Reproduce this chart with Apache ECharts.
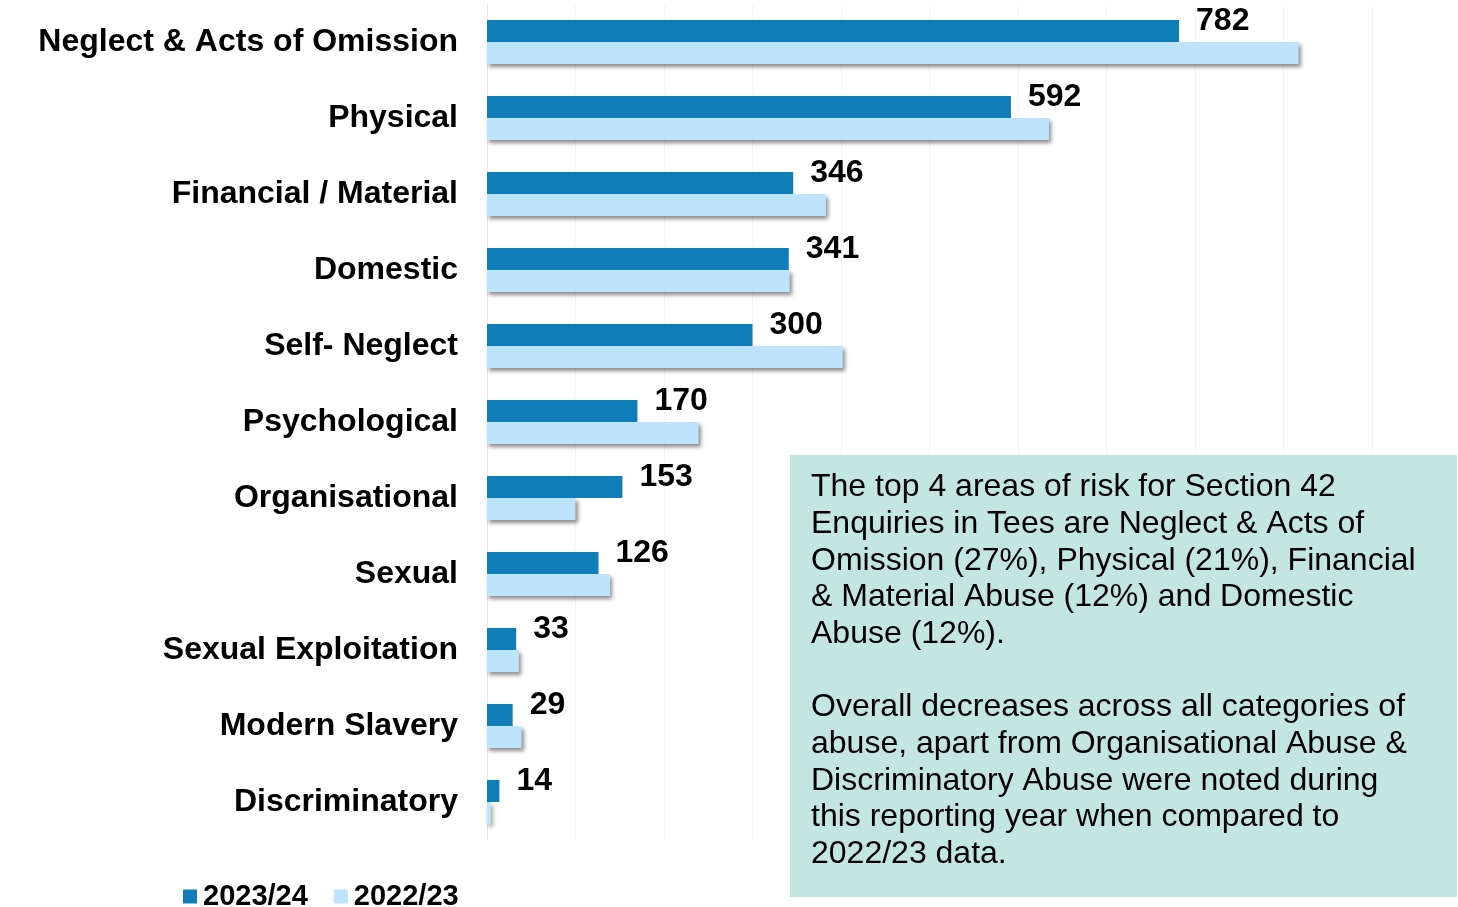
<!DOCTYPE html>
<html>
<head>
<meta charset="utf-8">
<script src="https://cdn.jsdelivr.net/npm/echarts@6/dist/echarts.min.js"></script>
<style>
  html, body { margin: 0; padding: 0; background: #fff; }
  #main { width: 1458px; height: 907px; }
</style>
</head>
<body>
<div id="main"></div>
<script>
  const categories = [
    'Neglect & Acts of Omission', 'Physical', 'Financial / Material', 'Domestic',
    'Self- Neglect', 'Psychological', 'Organisational', 'Sexual',
    'Sexual Exploitation', 'Modern Slavery', 'Discriminatory'
  ];
  const seriesNames = ['2023/24', '2022/23'];
  const values2324 = [782, 592, 346, 341, 300, 170, 153, 126, 33, 29, 14];
  const values2223 = [917, 635, 383, 342, 402, 239, 100, 139, 36, 39, 4];
  const noteLines = [
    'The top 4 areas of risk for Section 42',
    'Enquiries in Tees are Neglect & Acts of',
    'Omission (27%), Physical (21%), Financial',
    '& Material Abuse (12%) and Domestic',
    'Abuse (12%).',
    '',
    'Overall decreases across all categories of',
    'abuse, apart from Organisational Abuse &',
    'Discriminatory Abuse were noted during',
    'this reporting year when compared to',
    '2022/23 data.'
  ];

  const font = '"Liberation Sans", Arial, sans-serif';
  const chart = echarts.init(document.getElementById('main'));

  chart.setOption({
    animation: false,
    grid: { left: 487, right: 86, top: 4, bottom: 67 },
    legend: {
      data: seriesNames,
      left: 178,
      top: 877,
      icon: 'rect',
      itemWidth: 14,
      itemHeight: 14,
      itemGap: 26,
      textStyle: { fontFamily: font, fontWeight: 'bold', fontSize: 29, color: '#000', padding: [0, 0, 0, 1] }
    },
    xAxis: {
      type: 'value',
      min: 0,
      max: 1000,
      interval: 100,
      axisLabel: { show: false },
      axisLine: { show: false },
      axisTick: { show: false },
      splitLine: { lineStyle: { color: '#f5f5f5', width: 1 } }
    },
    yAxis: {
      type: 'category',
      data: categories,
      inverse: true,
      axisTick: { show: false },
      axisLine: { lineStyle: { color: '#e6e6e6', width: 1 } },
      axisLabel: {
        margin: 29,
        padding: [4, 0, 0, 0],
        fontFamily: font,
        fontWeight: 'bold',
        fontSize: 32,
        color: '#000'
      }
    },
    series: [
      {
        name: seriesNames[0],
        type: 'bar',
        data: values2324,
        barGap: '0%',
        barCategoryGap: '42%',
        itemStyle: { color: '#0f7db8' },
        label: {
          show: true,
          position: 'right',
          distance: 17,
          offset: [0, -10],
          fontFamily: font,
          fontWeight: 'bold',
          fontSize: 32,
          color: '#000'
        },
        z: 3
      },
      {
        name: seriesNames[1],
        type: 'bar',
        data: values2223,
        itemStyle: {
          color: '#bde4fb',
          shadowColor: 'rgba(0,0,0,0.45)',
          shadowBlur: 4,
          shadowOffsetX: 2,
          shadowOffsetY: 3
        },
        z: 2
      }
    ],
    graphic: [
      {
        type: 'rect',
        z: 100,
        shape: { x: 790, y: 455, width: 667, height: 442 },
        style: { fill: '#c3e7e0' }
      },
      {
        type: 'text',
        z: 101,
        x: 811,
        y: 469,
        style: {
          text: noteLines.join('\n'),
          font: '32px ' + font,
          lineHeight: 36.7,
          fill: '#000'
        }
      }
    ]
  });
</script>
</body>
</html>
